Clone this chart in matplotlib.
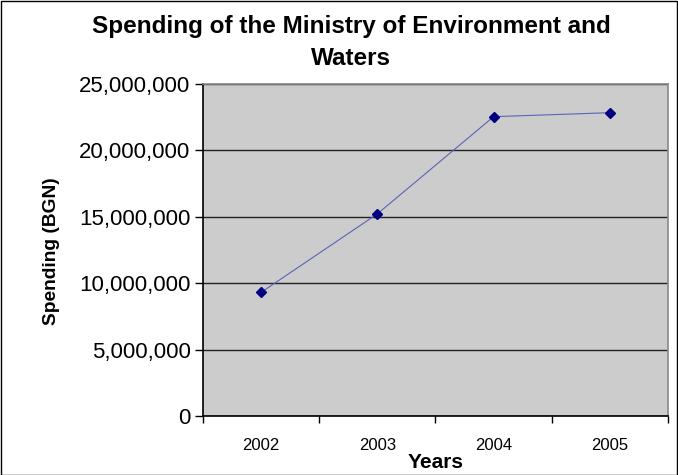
import matplotlib
matplotlib.use("Agg")
import matplotlib.pyplot as plt
from matplotlib.ticker import FuncFormatter, FixedLocator

years = ["2002", "2003", "2004", "2005"]
spending = [9310000, 15220000, 22540000, 22840000]

plt.rcParams['font.family'] = ['Liberation Sans', 'DejaVu Sans']

fig = plt.figure(figsize=(6.78, 4.75), dpi=100)
ax = fig.add_axes([203/678, 1 - 416/475, 465/678, 332/475])
ax.set_facecolor("#cccccc")

x = list(range(len(years)))
ax.plot(x, spending, color="#5a64b8", linewidth=0.8, zorder=3)
ax.plot(x, spending, linestyle="none", marker="D", markersize=5.5,
        color="#000080", zorder=4)

ax.set_xlim(-0.5, len(years) - 0.5)
ax.set_ylim(0, 25000000)
ax.set_yticks(range(0, 25000001, 5000000))
ax.yaxis.set_major_formatter(FuncFormatter(lambda v, p: "{:,.0f}".format(v)))
ax.grid(axis="y", color="#222222", linewidth=1.0)
ax.set_axisbelow(True)

ax.set_xticks(x)
ax.set_xticklabels(years, fontsize=12)
ax.tick_params(axis="x", which="major", length=0, pad=16)
ax.xaxis.set_minor_locator(FixedLocator([i - 0.5 for i in range(len(years) + 1)]))
ax.tick_params(axis="x", which="minor", length=5, width=1)
ax.tick_params(axis="y", labelsize=16, length=6, width=1, pad=3)

for side in ["top", "right"]:
    ax.spines[side].set_color("#888888")
    ax.spines[side].set_linewidth(1.2)
for side in ["left", "bottom"]:
    ax.spines[side].set_color("black")
    ax.spines[side].set_linewidth(1.2)

ax.set_xlabel("Years", fontsize=15, fontweight="bold", labelpad=0)
fig.text(52/678, 1 - 251/475, "Spending (BGN)", rotation=90, fontsize=13.8,
         fontweight="bold", ha="center", va="center")
fig.text(351/678, 1 - 42.5/475, "Spending of the Ministry of Environment and\nWaters",
         ha="center", va="center", fontsize=17.5, fontweight="bold", linespacing=1.55)

fig.patches.append(plt.Rectangle((0.001, 0.001), 0.998, 0.997, transform=fig.transFigure,
                                 fill=False, edgecolor="black", linewidth=1))

fig.savefig("out.png", dpi=100)
